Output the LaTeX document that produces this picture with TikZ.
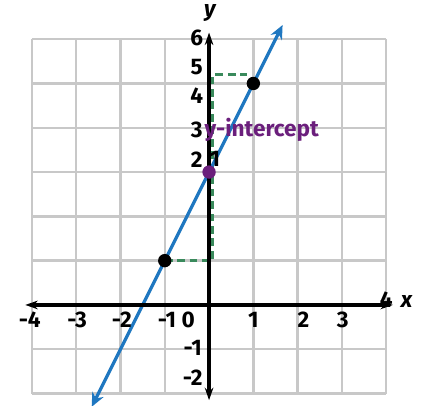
\documentclass[tikz,border=0pt]{standalone}
\usepackage{fontspec}
\setmainfont{Fira Sans}
\usetikzlibrary{arrows.meta}
\definecolor{lineBlue}{HTML}{1F77C0}
\definecolor{gridGray}{HTML}{C8C8C8}
\definecolor{slopeGreen}{HTML}{3A8A5C}
\definecolor{interPurple}{HTML}{6B1F7C}

\begin{document}
\begin{tikzpicture}[font=\bfseries\fontsize{14.5}{14.5}\selectfont,
  lbl/.style={inner sep=0pt},
  axis/.style={line width=2.4pt,{Stealth[length=8pt,width=5.5pt]}-{Stealth[length=8pt,width=5.5pt]}}]
\useasboundingbox (-4.72,-2.28) rectangle (4.83,6.885);
\draw[line width=1.5pt,gridGray] (-4,-2) grid (4,6);
% points on the line y = 2x+3
\coordinate (lo) at (-2.65,-2.3);
\coordinate (hi) at (1.66,6.32);
\coordinate (p1) at (-1,1);
\coordinate (p0) at (0,3);
\coordinate (p2) at (1,5);
\coordinate (c1) at (0.08,1);
\coordinate (c2) at (0.08,5.2);
\coordinate (c3) at (0.85,5.2);
\draw[slopeGreen,line width=1.6pt,dash pattern=on 5pt off 3pt] (p1) -- (c1) -- (c2) -- (c3);
\draw[lineBlue,line width=2.1pt,{Stealth[length=9pt,width=8pt]}-{Stealth[length=9pt,width=8pt]}] (lo) -- (hi);
\draw[axis] (-4.15,0) -- (4.15,0);
\draw[axis] (0,-2.15) -- (0,6.15);
\fill (p1) circle (4.3pt);
\fill (p2) circle (4.3pt);
\fill[interPurple] (p0) circle (4.3pt);
% axis labels
\node[lbl] (ylab) at (0.02,6.6) {\itshape y};
\node[lbl] (xlab) at (4.46,0.07) {\itshape x};
\node[lbl] (y6) at (-0.28,6.04) {6};
\node[lbl] (y5) at (-0.28,5.36) {5};
\node[lbl] (y4) at (-0.28,4.72) {4};
\node[lbl] (y3) at (-0.28,3.96) {3};
\node[lbl] (y2) at (-0.28,3.29) {2};
\node[lbl] (y1) at (0.13,3.29) {1};
\node[lbl] (x0) at (-0.47,-0.34) {0};
\node[lbl] (xm1) at (-0.95,-0.34) {-1};
\node[lbl] (xm2) at (-1.97,-0.34) {-2};
\node[lbl] (xm3) at (-2.98,-0.34) {-3};
\node[lbl] (xm4) at (-4.05,-0.34) {-4};
\node[lbl] (x1) at (1,-0.34) {1};
\node[lbl] (x2) at (2.13,-0.34) {2};
\node[lbl] (x3) at (3.02,-0.34) {3};
\node[lbl] (x4) at (4.0,0.11) {4};
\node[lbl] (ym1) at (-0.37,-0.96) {-1};
\node[lbl] (ym2) at (-0.37,-1.65) {-2};
\node[lbl,interPurple] (yint) at (1.19,3.95) {y-intercept};
\end{tikzpicture}
\end{document}
